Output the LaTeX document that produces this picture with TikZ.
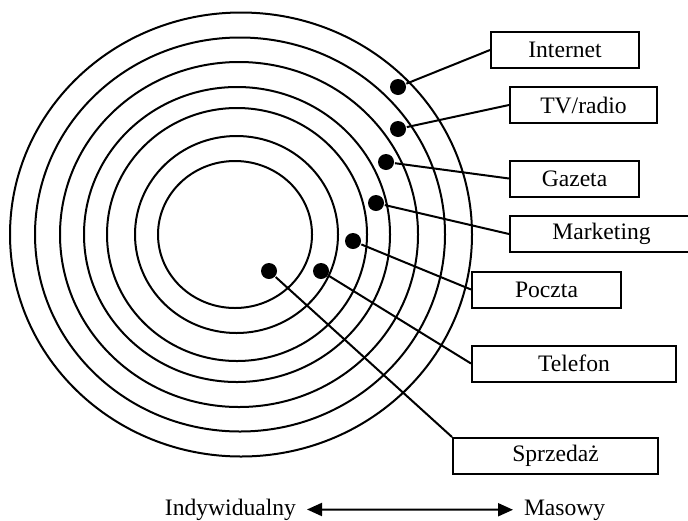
\documentclass[tikz,border=0pt]{standalone}
\usepackage{fontspec}
\setmainfont{Liberation Serif}
\usetikzlibrary{arrows.meta}

\begin{document}
\begin{tikzpicture}[x=0.5pt,y=-0.5pt,line width=1pt,
		>={Triangle[length=7.5pt,width=6.5pt]},
		every node/.style={font=\fontsize{11.8}{14}\selectfont},
		kropka/.style={circle,fill=black,inner sep=0pt,minimum size=8pt},
		ramka/.style={draw,inner sep=0pt,minimum height=18pt}]
								\useasboundingbox (0,0) rectangle (688,520);

								% kregi
								\foreach \cx/\rx/\ry in {241/231/222, 240/205/197, 239/179/172.5, 237/153/147.5, 237/130/126.5, 236.5/101.5/98.5, 235/77/73.5}
									\draw (\cx,234.5) ellipse [x radius=\rx, y radius=\ry];

								\node[kropka] (dInternet) at (398,87) {};
								\node[kropka] (dTV) at (398,129) {};
								\node[kropka] (dGazeta) at (386,162) {};
								\node[kropka] (dMarketing) at (376,203) {};
								\node[kropka] (dPoczta) at (353,241) {};
								\node[kropka] (dTelefon) at (321,271) {};
								\node[kropka] (dSprzedaz) at (269,271) {};

								\node[ramka,minimum width=74pt] (bInternet) at (565,50) {Internet};
								\node[ramka,minimum width=73.5pt] (bTV) at (583.5,105) {TV/radio};
								\node[ramka,minimum width=64.5pt] (bGazeta) at (574.5,178.5) {Gazeta};
								\node[ramka,minimum width=91.5pt] (bMarketing) at (601.5,234) {Marketing};
								\node[ramka,minimum width=74.5pt] (bPoczta) at (546.5,289.5) {Poczta};
								\node[ramka,minimum width=102pt] (bTelefon) at (574,363.5) {Telefon};
								\node[ramka,minimum width=102.5pt] (bSprzedaz) at (555.5,456) {Sprzedaż};

								\draw[]  (dInternet) to (bInternet.west);
								\draw[]  (dTV) to (bTV.west);
								\draw[]  (dGazeta) to (bGazeta.west);
								\draw[]  (dMarketing) to (bMarketing.west);
								\draw[]  (dPoczta) to (bPoczta.west);
								\draw[]  (dTelefon) to (bTelefon.west);
								\draw[]  (dSprzedaz) to (bSprzedaz.north west);

								% skala
								\node[anchor=base east,inner sep=5pt] (ind) at (307,515) {Indywidualny};
								\node[anchor=base west,inner sep=5pt] (mas) at (513,515) {Masowy};
								\draw[<->]  (ind) to (mas);

							\end{tikzpicture}
\end{document}
